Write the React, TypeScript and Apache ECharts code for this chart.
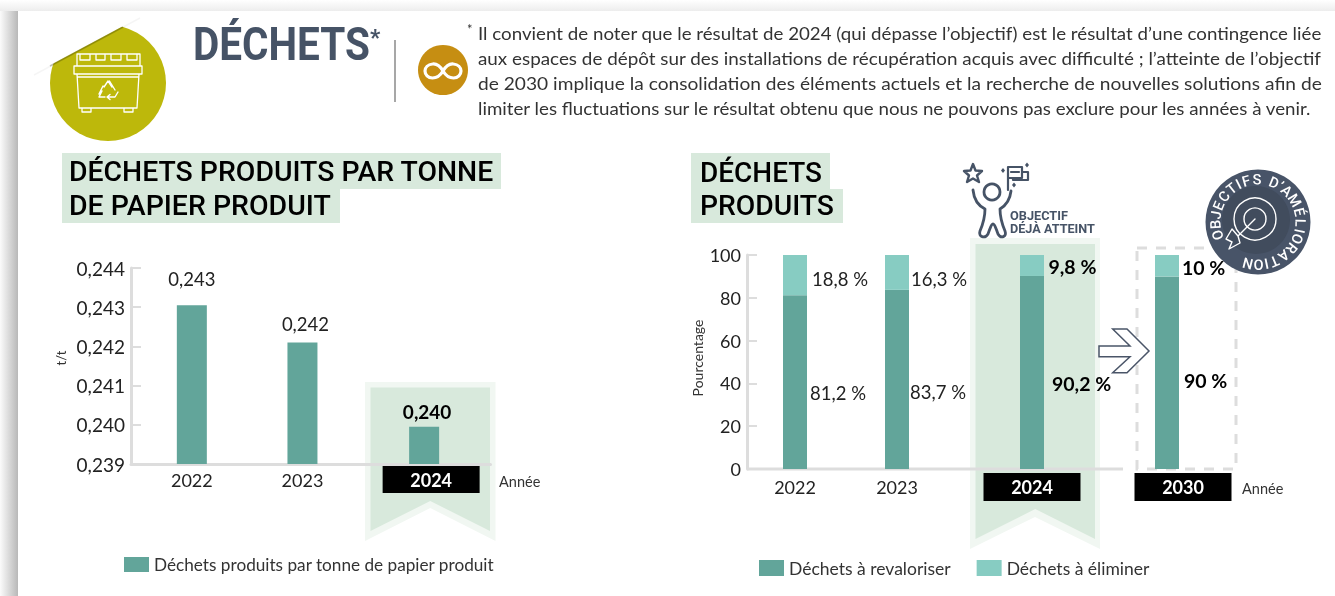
import React, { useEffect, useRef } from "react";
import * as echarts from "echarts";

// ---------- data ----------
const leftYears = ["2022", "2023", "2024"];
const leftValues = [0.24305, 0.2421, 0.23995];
const leftSeriesName = "Déchets produits par tonne de papier produit";
const rightYears = ["2022", "2023", "2024", "2030"];
const revaloriser = [81.2, 83.7, 90.2, 90];
const eliminer = [18.8, 16.3, 9.8, 10];
const revaloriserName = "Déchets à revaloriser";
const eliminerName = "Déchets à éliminer";
const noteLines = [
  "Il convient de noter que le résultat de 2024 (qui dépasse l’objectif) est le résultat d’une contingence liée",
  "aux espaces de dépôt sur des installations de récupération acquis avec difficulté ; l’atteinte de l’objectif",
  "de 2030 implique la consolidation des éléments actuels et la recherche de nouvelles solutions afin de",
  "limiter les fluctuations sur le résultat obtenu que nous ne pouvons pas exclure pour les années à venir.",
];
const badgeText = "OBJECTIFS D’AMÉLIORATION";

// ---------- layout (slots on the category axis, so that the uneven spacing of the original is kept) ----------
const leftSlots = [11, 31, 53];
const leftSlotCount = 66;
const rightSlots = [16, 50, 95, 140];
const rightSlotCount = 164;
const leftLabelDist = [17, 9, 6];
const leftLabelShift = [0, 3, 3];
const revLabel = [[3, 11], [1, 13], [8, 11], [5, 8]];
const elimLabel = [[5, 4], [2, 6.5], [4.5, 1.5], [3, 1.5]];
const boxedShift: Record<string, number> = { "L2024": 14, "R2024": 0, "R2030": 32 };

const BODY = "Lato, sans-serif";
const HEAD = "Roboto, sans-serif";
const DARK = "#465366";
const BAR = "#62A59A";
const BAR2 = "#87CCC2";
const GREEN = "#D8E9DC";
const GREEN2 = "#F1F7F2";
const AXIS = "#DDDDDD";
const INK = "#222222";

const measure = (() => {
  const c = document.createElement("canvas").getContext("2d") as CanvasRenderingContext2D;
  return (t: string, font: string) => {
    c.font = font;
    return c.measureText(t).width;
  };
})();

function fitted(text: string, x: number, y: number, right: number, font: { size: number; weight: number; family: string; fill: string }) {
  const f = `${font.weight} ${font.size}px ${font.family}`;
  return {
    type: "text",
    x,
    y,
    scaleX: (right - x) / measure(text, f),
    style: { text, x: 0, y: 0, fill: font.fill, font: f, verticalAlign: "middle", align: "left" },
  };
}

const shapes: Record<string, string> = {
  dumpster:
    "M77 66V54H140V66M80 54V60H90V54M96 54V60H105V54M111 54V60H121V54M127 54V60H137V54M74 66H142V74H74ZM77 74L79 108H137L139 74M77 77H139M82 108V112H91V108M124 108V112H133V108",
  recycle:
    "M104 87L108 81L112 87M109.500 81L115 90M118 92L115 97H108M110 94.500L107 97L110 99.500M105 97H99L102 91M99 94L103 86",
  infinity:
    "M443 71C440 66 436 63.500 432.500 64C428 64.500 425 67.500 425 71C425 74.500 428 78 432.500 78C436 78 440 76 443 71C446 66 450 63.500 453.500 64C458 64.500 461 67.500 461 71C461 74.500 458 78 453.500 78C450 78 446 76 443 71Z",
  star: "M973 164L975.500 170.500L982 171L977 175.500L979 182L973 178.500L967 182L969 175.500L964 171L970.500 170.500Z",
  person:
    "M973 190C974 200 979 206 985 209C985 218 983 224 980 231C978 237 985 239 988 234C990 229 991 224 993 224C995 224 996 229 998 234C1001 239 1007 237 1005 231C1002 224 1000 218 1000 209C1005 206 1010 200 1011 191",
  flag: "M1008 190V167H1022V178H1008M1011 172H1019M1022 172H1028V180H1013V178",
  spark: "M1003 168L1005 170.500L1003 173L1001 170.500ZM1027 162.500L1029 165L1027 167.500L1025 165ZM1014 182.500L1016 185L1014 187.500L1012 185Z",
  arrowHead:
    "M1255 219L1238 236M1238 236L1232 229L1226 239L1232 242L1229 249L1240 243Z",
};
Object.keys(shapes).forEach((k) => {
  echarts.graphic.registerShape(k, echarts.graphic.extendPath(shapes[k], {}) as any);
});

const strokeShape = (type: string, stroke: string, lineWidth: number) => ({
  type,
  x: 0,
  y: 0,
  style: { fill: "none", stroke, lineWidth, lineCap: "round", lineJoin: "round" },
});

function ribbon(x0: number, x1: number, top: number, apex: number, bottom: number, fill: string) {
  return {
    type: "polygon",
    shape: { points: [[x0, top], [x1, top], [x1, bottom], [(x0 + x1) / 2, apex], [x0, bottom]] },
    style: { fill },
  };
}

function badgeLetters() {
  const cx = 1258;
  const cy = 222;
  const r = 42;
  const w = (ch: string) => (ch === "I" ? 0.5 : ch === " " ? 0.6 : ch === "’" ? 0.4 : ch === "J" ? 0.75 : ch === "M" ? 1.3 : 1);
  const chars = badgeText.split("");
  const total = chars.reduce((s, c, i) => s + (i === 0 ? 0 : (w(c) + w(chars[i - 1])) / 2), 0);
  const start = -108;
  const end = 194;
  let acc = 0;
  return chars
    .map((ch, i) => {
      if (i > 0) acc += (w(ch) + w(chars[i - 1])) / 2;
      const a = start + ((end - start) * acc) / total;
      const rad = (a * Math.PI) / 180;
      return {
        type: "text",
        x: cx + r * Math.sin(rad),
        y: cy - r * Math.cos(rad),
        rotation: -rad,
        style: { text: ch, fill: "#fff", font: `500 14.5px ${HEAD}`, align: "center", verticalAlign: "middle" },
      };
    })
    .filter((e) => e.style.text !== " ");
}

function slotted<T>(slots: number[], count: number, values: T[]): (T | null)[] {
  const out: (T | null)[] = new Array(count).fill(null);
  slots.forEach((s, i) => (out[s] = values[i]));
  return out;
}

function xAxisOf(gridIndex: number, years: string[], slots: number[], count: number, prefix: string, line: boolean, margin: number, h: number) {
  const cats = slotted(slots, count, years).map((v) => v ?? "");
  const rich: Record<string, any> = {
    plain: { fontFamily: BODY, fontSize: 18, color: INK, lineHeight: h },
    box: { fontFamily: BODY, fontSize: 18, fontWeight: 700, color: "#fff", backgroundColor: "#000", width: 97, height: h, lineHeight: h, align: "center" },
  };
  Object.keys(boxedShift).forEach((k) => {
    if (k[0] === prefix) rich["sp" + k.slice(1)] = { width: boxedShift[k], height: h, lineHeight: h, fontSize: 1 };
  });
  return {
    type: "category",
    gridIndex,
    data: cats,
    boundaryGap: false,
    axisTick: { show: false },
    axisLine: { show: line, onZero: false, lineStyle: { color: AXIS, width: 3 } },
    axisLabel: {
      interval: 0,
      margin,
      hideOverlap: false,
      formatter: (v: string) => {
        if (!v) return "";
        const key = prefix + v;
        if (key in boxedShift) return boxedShift[key] ? `{sp${v}| }{box|${v}}` : `{box|${v}}`;
        return `{plain|${v}}`;
      },
      rich,
    },
  };
}

function yAxisOf(gridIndex: number, min: number, max: number, interval: number, fmt: (v: number) => string, name: string, nameGap: number, nameShift: number, nameSize: number, labelSize: number) {
  return {
    type: "value",
    gridIndex,
    min,
    max,
    interval,
    name,
    nameLocation: "middle",
    nameGap,
    nameRotate: 90,
    nameTextStyle: { fontFamily: BODY, fontSize: nameSize, color: "#333", padding: [0, 0, 0, nameShift] },
    splitLine: { show: false },
    axisLine: { show: true, lineStyle: { color: AXIS, width: 3 } },
    axisTick: { show: true, inside: true, length: 10, lineStyle: { color: AXIS, width: 2 } },
    axisLabel: { margin: 6, fontFamily: BODY, fontSize: labelSize, color: INK, formatter: fmt },
  };
}

function option() {
  const labelBase = { fontFamily: BODY, fontSize: 18.5, color: INK };
  const percent = (v: number) => `${String(v).replace(".", ",")} %`;
  const stackItem = (v: number, i: number, cfg: number[][]) => ({
    value: v,
    label: {
      show: true,
      position: "right",
      distance: cfg[i][0],
      offset: [0, cfg[i][1]],
      formatter: percent(v),
      ...labelBase,
      color: i >= 2 ? "#000" : INK,
      fontWeight: i >= 2 ? 700 : 400,
      fontSize: i >= 2 ? 19.5 : 18.5,
    },
  });

  return {
    animation: false,
    backgroundColor: "transparent",
    grid: [
      { left: 131, top: 268, width: 359.5, height: 196, containLabel: false },
      { left: 747, top: 255, width: 489, height: 214, containLabel: false },
    ],
    xAxis: [
      xAxisOf(0, leftYears, leftSlots, leftSlotCount, "L", true, 2, 27),
      xAxisOf(1, rightYears, rightSlots, rightSlotCount, "R", false, 4, 28),
    ],
    yAxis: [
      yAxisOf(0, 0.239, 0.244, 0.001, (v) => v.toFixed(3).replace(".", ","), "t/t", 64, 16, 13, 19),
      yAxisOf(1, 0, 100, 20, (v) => String(v), "Pourcentage", 43, 8, 14, 18),
    ],
    legend: [
      {
        data: [leftSeriesName],
        icon: "rect",
        left: 119,
        top: 551,
        itemWidth: 25,
        itemHeight: 15,
        selectedMode: false,
        textStyle: { fontFamily: BODY, fontSize: 17.2, color: "#333" },
      },
      {
        data: [revaloriserName, eliminerName],
        icon: "rect",
        left: 754,
        top: 554,
        itemWidth: 25,
        itemHeight: 16,
        itemGap: 26,
        selectedMode: false,
        textStyle: { fontFamily: BODY, fontSize: 17.5, color: "#333" },
      },
    ],
    series: [
      {
        name: leftSeriesName,
        type: "bar",
        xAxisIndex: 0,
        yAxisIndex: 0,
        barWidth: 30,
        itemStyle: { color: BAR },
        data: slotted(
          leftSlots,
          leftSlotCount,
          leftValues.map((v, i) => ({
            value: v,
            label: {
              show: true,
              position: "top",
              distance: leftLabelDist[i],
              offset: [leftLabelShift[i], 0],
              formatter: v.toFixed(3).replace(".", ","),
              ...labelBase,
              color: i === 2 ? "#000" : INK,
              fontWeight: i === 2 ? 700 : 400,
              fontSize: i === 2 ? 19 : 18.5,
            },
          }))
        ),
      },
      {
        name: revaloriserName,
        type: "bar",
        stack: "d",
        xAxisIndex: 1,
        yAxisIndex: 1,
        barWidth: 24,
        itemStyle: { color: BAR },
        data: slotted(rightSlots, rightSlotCount, revaloriser.map((v, i) => stackItem(v, i, revLabel))),
      },
      {
        name: eliminerName,
        type: "bar",
        stack: "d",
        xAxisIndex: 1,
        yAxisIndex: 1,
        barWidth: 24,
        itemStyle: { color: BAR2 },
        data: slotted(rightSlots, rightSlotCount, eliminer.map((v, i) => stackItem(v, i, elimLabel))),
      },
    ],
    graphic: {
      z: -1,
      elements: [
        // page edge and sheet
        {
          type: "rect",
          shape: { x: 0, y: 0, width: 18, height: 596 },
          style: {
            fill: new echarts.graphic.LinearGradient(0, 0, 1, 0, [
              { offset: 0, color: "#FBFBFB" },
              { offset: 1, color: "#B8B8B8" },
            ]),
          },
        },
        {
          type: "rect",
          shape: { x: 0, y: 0, width: 1335, height: 11 },
          style: {
            fill: new echarts.graphic.LinearGradient(0, 0, 0, 1, [
              { offset: 0, color: "#FFFFFF" },
              { offset: 1, color: "#EDEDED" },
            ]),
          },
        },
        { type: "rect", shape: { x: 18, y: 11, width: 1317, height: 585 }, style: { fill: "#fff" } },

        // sticker
        { type: "circle", shape: { cx: 108, cy: 83, r: 58 }, style: { fill: "#BDB80B" } },
        { type: "polygon", shape: { points: [[32, 75], [142, 16], [32, 16]] }, style: { fill: "#fff" } },
        { type: "line", shape: { x1: 34, y1: 75, x2: 140, y2: 18 }, style: { stroke: "rgba(0,0,0,0.04)", lineWidth: 1.5 } },
        { type: "line", shape: { x1: 50, y1: 66, x2: 123, y2: 27 }, style: { stroke: "rgba(60,60,0,0.3)", lineWidth: 1.5 } },
        strokeShape("dumpster", "#fff", 1.3),
        strokeShape("recycle", "#fff", 1.4),

        // header
        fitted("DÉCHETS", 193, 45, 370, { size: 46, weight: 700, family: HEAD, fill: DARK }),
        { type: "text", x: 370, y: 26, style: { text: "*", fill: DARK, font: `900 22px ${HEAD}`, verticalAlign: "top", align: "left" } },
        { type: "line", shape: { x1: 395, y1: 40, x2: 395, y2: 102 }, style: { stroke: "#8A8A8A", lineWidth: 1.5 } },
        { type: "circle", shape: { cx: 443, cy: 70, r: 25 }, style: { fill: "#C68E12" } },
        strokeShape("infinity", "#fff", 3.2),
        { type: "text", x: 467, y: 29, style: { text: "*", fill: "#333", font: `400 13px ${BODY}`, align: "left", verticalAlign: "middle" } },
        fitted(noteLines[0], 478, 33, 1322, { size: 17, weight: 400, family: BODY, fill: "#333" }),
        fitted(noteLines[1], 478, 58, 1322, { size: 17, weight: 400, family: BODY, fill: "#333" }),
        fitted(noteLines[2], 478, 83, 1322, { size: 17, weight: 400, family: BODY, fill: "#333" }),
        fitted(noteLines[3], 478, 108, 1313, { size: 17, weight: 400, family: BODY, fill: "#333" }),

        // section titles
        { type: "rect", shape: { x: 62, y: 153, width: 439, height: 36 }, style: { fill: GREEN } },
        { type: "rect", shape: { x: 62, y: 189, width: 278, height: 34 }, style: { fill: GREEN } },
        fitted("DÉCHETS PRODUITS PAR TONNE", 69, 172, 494, { size: 28, weight: 500, family: HEAD, fill: "#000" }),
        fitted("DE PAPIER PRODUIT", 69, 206, 331, { size: 28, weight: 500, family: HEAD, fill: "#000" }),
        { type: "rect", shape: { x: 691, y: 153, width: 139, height: 36 }, style: { fill: GREEN } },
        { type: "rect", shape: { x: 691, y: 189, width: 152, height: 34 }, style: { fill: GREEN } },
        fitted("DÉCHETS", 700, 172, 822, { size: 28, weight: 500, family: HEAD, fill: "#000" }),
        fitted("PRODUITS", 700, 206, 834, { size: 28, weight: 500, family: HEAD, fill: "#000" }),

        // ribbons
        ribbon(365, 495.5, 382, 508, 541, GREEN2),
        ribbon(370.5, 490, 387.5, 501, 531, GREEN),
        ribbon(970, 1100, 238, 517, 549, GREEN2),
        ribbon(975.5, 1095, 244, 509, 539, GREEN),

        // x axis of the right chart: broken before the 2030 frame
        { type: "line", shape: { x1: 747, y1: 469, x2: 1123, y2: 469 }, style: { stroke: AXIS, lineWidth: 3 } },
        {
          type: "rect",
          shape: { x: 1137, y: 248, width: 99, height: 221 },
          style: { fill: "none", stroke: AXIS, lineWidth: 3, lineDash: [10, 9] },
        },

        // arrow between 2024 and 2030
        {
          type: "polygon",
          shape: {
            points: [[1112.7, 329], [1127, 329], [1149, 351], [1127, 372.7], [1112.7, 372.7], [1130, 356.7], [1099, 356.7], [1099, 346], [1130, 346]],
          },
          style: { fill: "#fff", stroke: "#4A5568", lineWidth: 1.5, lineJoin: "miter" },
        },

        // "objectif déjà atteint"
        strokeShape("star", DARK, 2.4),
        { type: "circle", shape: { cx: 992, cy: 192, r: 8 }, style: { fill: "none", stroke: DARK, lineWidth: 2.8 } },
        strokeShape("person", DARK, 2.8),
        strokeShape("flag", DARK, 2.2),
        { type: "spark", x: 0, y: 0, style: { fill: DARK } },
        fitted("OBJECTIF", 1010, 215, 1068, { size: 13, weight: 700, family: HEAD, fill: DARK }),
        fitted("DÉJÀ ATTEINT", 1010, 228.5, 1095, { size: 13, weight: 700, family: HEAD, fill: DARK }),

        // badge
        { type: "circle", shape: { cx: 1258, cy: 222, r: 52.5 }, style: { fill: "#485468" } },
        { type: "circle", shape: { cx: 1256, cy: 220, r: 34 }, style: { fill: "#414C5D" } },
        { type: "circle", shape: { cx: 1255, cy: 219, r: 21 }, style: { fill: "none", stroke: "#fff", lineWidth: 1.4 } },
        { type: "circle", shape: { cx: 1255, cy: 219, r: 11 }, style: { fill: "none", stroke: "#fff", lineWidth: 1.4 } },
        strokeShape("arrowHead", "#fff", 1.4),
        ...badgeLetters(),

        // axis titles
        { type: "text", x: 499, y: 481, style: { text: "Année", fill: "#333", font: `400 14.5px ${BODY}`, verticalAlign: "middle", align: "left" } },
        { type: "text", x: 1242, y: 488, style: { text: "Année", fill: "#333", font: `400 14.5px ${BODY}`, verticalAlign: "middle", align: "left" } },
      ],
    },
  };
}

export default function App() {
  const ref = useRef<HTMLDivElement>(null);
  useEffect(() => {
    const chart = echarts.init(ref.current as HTMLDivElement, undefined, { renderer: "svg" });
    chart.setOption(option() as any);
    return () => chart.dispose();
  }, []);
  return <div ref={ref} style={{ position: "fixed", left: 0, top: 0, width: 1335, height: 596 }} />;
}
